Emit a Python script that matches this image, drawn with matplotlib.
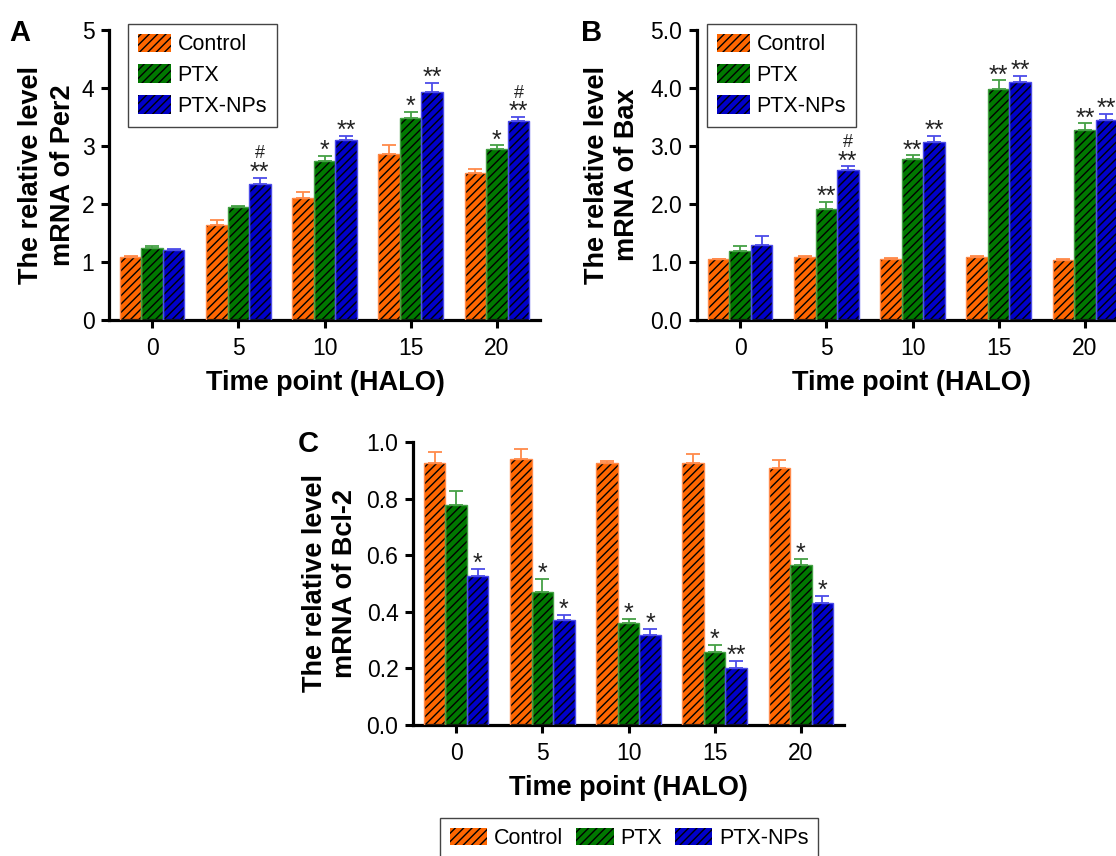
import numpy as np
import matplotlib
matplotlib.use('Agg')
import matplotlib.pyplot as plt

plt.rcParams['font.family'] = ['Liberation Sans', 'DejaVu Sans']
plt.rcParams['hatch.linewidth'] = 1.0

# time points (HALO)
time_points = ['0', '5', '10', '15', '20']
groups = ['Control', 'PTX', 'PTX-NPs']

# Per2
per2_ctrl = [1.08, 1.63, 2.11, 2.86, 2.53]
per2_ctrl_err = [0.03, 0.10, 0.10, 0.16, 0.07]
per2_ptx = [1.24, 1.94, 2.75, 3.49, 2.95]
per2_ptx_err = [0.04, 0.03, 0.08, 0.10, 0.06]
per2_nps = [1.21, 2.34, 3.10, 3.93, 3.43]
per2_nps_err = [0.01, 0.11, 0.07, 0.16, 0.07]
per2_sig_ptx = ['', '', '*', '*', '*']
per2_sig_nps = ['', '**', '**', '**', '**']
per2_hash_nps = ['', '#', '', '', '#']

# Bax
bax_ctrl = [1.05, 1.08, 1.06, 1.08, 1.03]
bax_ctrl_err = [0.01, 0.02, 0.01, 0.02, 0.02]
bax_ptx = [1.19, 1.91, 2.77, 3.99, 3.27]
bax_ptx_err = [0.09, 0.12, 0.07, 0.14, 0.12]
bax_nps = [1.30, 2.59, 3.07, 4.10, 3.44]
bax_nps_err = [0.14, 0.06, 0.11, 0.11, 0.12]
bax_sig_ptx = ['', '**', '**', '**', '**']
bax_sig_nps = ['', '**', '**', '**', '**']
bax_hash_nps = ['', '#', '', '', '']

# Bcl-2
bcl_ctrl = [0.927, 0.940, 0.927, 0.925, 0.907]
bcl_ctrl_err = [0.039, 0.036, 0.006, 0.034, 0.028]
bcl_ptx = [0.776, 0.471, 0.362, 0.258, 0.565]
bcl_ptx_err = [0.051, 0.045, 0.014, 0.026, 0.023]
bcl_nps = [0.525, 0.371, 0.319, 0.203, 0.430]
bcl_nps_err = [0.028, 0.019, 0.021, 0.024, 0.027]
bcl_sig_ptx = ['', '*', '*', '*', '*']
bcl_sig_nps = ['*', '*', '*', '**', '*']

face_colors = ['#FF6600', '#007800', '#0000C8']
light_colors = ['#FF8A4A', '#45A045', '#4C4CE8']

W, H = 1116, 856
fig = plt.figure(figsize=(W / 100, H / 100), dpi=100)


def px_axes(left, top, right, bottom):
    return fig.add_axes([left / W, 1 - bottom / H, (right - left) / W, (bottom - top) / H])


def fig_text(x, y, s, **kw):
    fig.text(x / W, 1 - y / H, s, **kw)


def draw_panel(ax, series, errs, marks, hashes, ymax, yticks, yfmt):
    x = np.arange(len(time_points))
    width = 0.25
    handles = []
    for k in range(3):
        xs = x + (k - 1) * width
        b = ax.bar(xs, series[k], width, color=face_colors[k], edgecolor='black',
                   linewidth=0, hatch='////', zorder=2)
        ax.bar(xs, series[k], width, fill=False, edgecolor=light_colors[k],
               linewidth=1.0, zorder=3)
        ax.errorbar(xs, series[k], yerr=[np.zeros(len(x)), errs[k]], fmt='none',
                    ecolor=light_colors[k], elinewidth=1.3, capsize=5, capthick=1.3,
                    zorder=4)
        handles.append(b)
        if marks[k] is not None:
            tops = np.array(series[k]) + np.array(errs[k])
            for i, s in enumerate(marks[k]):
                if s:
                    ax.annotate(s, (xs[i], tops[i]), xytext=(0, -1.5),
                                textcoords='offset points', ha='center',
                                va='baseline', fontsize=18, color='#222222',
                                zorder=5)
                if hashes[k] is not None and hashes[k][i]:
                    ax.annotate(hashes[k][i], (xs[i], tops[i]), xytext=(0, 14),
                                textcoords='offset points', ha='center',
                                va='baseline', fontsize=13, color='#222222',
                                zorder=5)
    ax.set_xlim(-0.5, 4.5)
    ax.set_ylim(0, ymax)
    ax.set_xticks(x)
    ax.set_xticklabels(time_points)
    ax.set_yticks(yticks)
    ax.set_yticklabels([yfmt.format(v) for v in yticks])
    for side in ['top', 'right']:
        ax.spines[side].set_visible(False)
    for side in ['left', 'bottom']:
        ax.spines[side].set_linewidth(2.3)
    ax.tick_params(axis='both', direction='out', length=5.5, width=2.2,
                   labelsize=16.5, colors='black')
    ax.tick_params(axis='x', pad=7)
    ax.tick_params(axis='y', pad=5)
    ax.set_facecolor('none')
    return handles


def add_legend(handles, x, y, ncol, hl, hh, ls=0.42, cs=0.7):
    leg = fig.legend(handles, groups, loc='upper left', bbox_to_anchor=(x / W, 1 - y / H),
                     bbox_transform=fig.transFigure, ncol=ncol, fontsize=15.5,
                     frameon=True, fancybox=False, framealpha=1, borderaxespad=0,
                     handlelength=hl, handleheight=hh, handletextpad=0.3,
                     labelspacing=ls, columnspacing=cs, borderpad=0.45)
    leg.get_frame().set_edgecolor('#444444')
    leg.get_frame().set_linewidth(1.0)
    return leg


label_kw = dict(fontsize=19.5, fontweight='bold', ha='center', va='center')

# panel A
axA = px_axes(109, 30, 540, 320)
hA = draw_panel(axA, [per2_ctrl, per2_ptx, per2_nps],
                [per2_ctrl_err, per2_ptx_err, per2_nps_err],
                [None, per2_sig_ptx, per2_sig_nps], [None, None, per2_hash_nps],
                5, [0, 1, 2, 3, 4, 5], '{:g}')
add_legend(hA, 128, 24, 1, 1.55, 0.95)
fig_text(47, 175, 'The relative level\nmRNA of Per2', rotation=90,
         multialignment='center', linespacing=1.25, **label_kw)
fig_text(325, 383, 'Time point (HALO)', **label_kw)
fig_text(9, 19, 'A', fontsize=21, fontweight='bold', ha='left', va='top')

# panel B
axB = px_axes(697, 30, 1128, 320)
hB = draw_panel(axB, [bax_ctrl, bax_ptx, bax_nps],
                [bax_ctrl_err, bax_ptx_err, bax_nps_err],
                [None, bax_sig_ptx, bax_sig_nps], [None, None, bax_hash_nps],
                5, [0, 1, 2, 3, 4, 5], '{:.1f}')
add_legend(hB, 707, 24, 1, 1.55, 0.95)
fig_text(612, 175, 'The relative level\nmRNA of Bax', rotation=90,
         multialignment='center', linespacing=1.25, **label_kw)
fig_text(911, 383, 'Time point (HALO)', **label_kw)
fig_text(581, 19, 'B', fontsize=21, fontweight='bold', ha='left', va='top')

# panel C
axC = px_axes(413, 442, 844, 725)
hC = draw_panel(axC, [bcl_ctrl, bcl_ptx, bcl_nps],
                [bcl_ctrl_err, bcl_ptx_err, bcl_nps_err],
                [None, bcl_sig_ptx, bcl_sig_nps], [None, None, None],
                1.0, [0, 0.2, 0.4, 0.6, 0.8, 1.0], '{:.1f}')
fig_text(330, 583, 'The relative level\nmRNA of Bcl-2', rotation=90,
         multialignment='center', linespacing=1.25, **label_kw)
fig_text(628, 788, 'Time point (HALO)', **label_kw)
fig_text(298, 430, 'C', fontsize=21, fontweight='bold', ha='left', va='top')

add_legend(hC, 440, 818, 3, 1.75, 0.85, cs=0.6)

fig.savefig('out.png', dpi=100)
